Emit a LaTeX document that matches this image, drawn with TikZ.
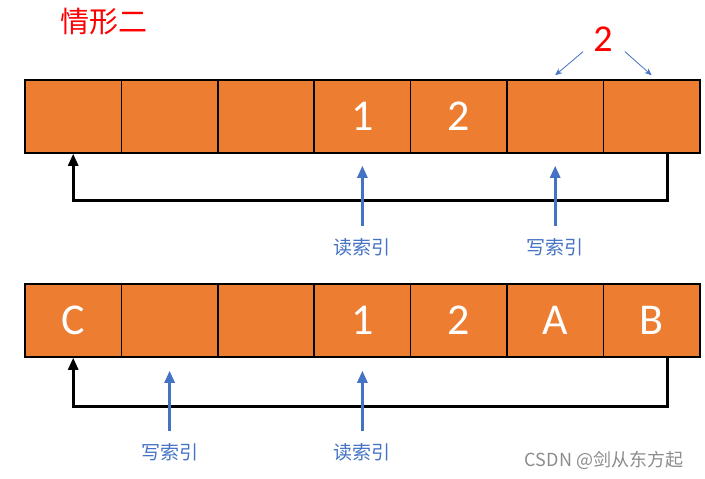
\documentclass[tikz,border=0pt]{standalone}
\usepackage{fontspec}
\setmainfont{Carlito}
\newfontfamily\cjk{Noto Sans CJK SC}
\usetikzlibrary{arrows.meta}
\definecolor{naranja}{HTML}{ED7D31}
\definecolor{azul}{HTML}{4472C4}
\definecolor{rojo}{HTML}{FF0000}
\begin{document}
\begin{tikzpicture}[
    x=1pt,
    y=-1pt,
    celda/.style={draw=black,line width=1.5pt,fill=naranja,minimum width=96.4pt,
        minimum height=73pt,inner sep=0pt,text=white,font=\fontsize{44}{48}\selectfont},
    indice/.style={draw=azul,line width=2.6pt,-{Triangle[length=12pt,width=10pt]}},
    retorno/.style={draw=black,line width=2.6pt,-{Triangle[length=12pt,width=10pt]}},
    fina/.style={draw=azul,line width=0.8pt,-{Stealth[length=7pt,width=6pt]}},
    etiqueta/.style={text=azul,font=\cjk\fontsize{19}{22}\selectfont,inner sep=0pt}
]
    \useasboundingbox (0,0) rectangle (705,479);

    \node[text=rojo,font=\cjk\fontsize{29}{32}\selectfont,inner sep=0pt] (titulo) at (104,22) {情形二};

    % primera fila
    \node[celda] (a1) at (73.2,116.5) {};
    \node[celda] (a2) at (169.6,116.5) {};
    \node[celda] (a3) at (266.0,116.5) {};
    \node[celda] (a4) at (362.4,116.5) {1};
    \node[celda] (a5) at (458.8,116.5) {2};
    \node[celda] (a6) at (555.2,116.5) {};
    \node[celda] (a7) at (651.6,116.5) {};

    \node[text=rojo,font=\fontsize{38}{40}\selectfont,inner sep=0pt] (dos) at (603,39) {2};
    \draw[fina] ([xshift=-10pt]dos.south west) -- ([yshift=4pt]a6.north);
    \draw[fina] ([xshift=12pt]dos.south east) -- ([yshift=4pt]a7.north);

    \draw[retorno] ([xshift=16pt]a7.south) -- ++(0,47) -| (a1.south);

    \node[etiqueta] (leerA) at (362.4,247) {读索引};
    \node[etiqueta] (escrA) at (555.2,247) {写索引};
    \draw[indice] ([yshift=12pt]leerA.north) -- ([yshift=-12pt]a4.south);
    \draw[indice] ([yshift=12pt]escrA.north) -- ([yshift=-12pt]a6.south);

    % segunda fila
    \node[celda] (b1) at (73.2,320.5) {C};
    \node[celda] (b2) at (169.6,320.5) {};
    \node[celda] (b3) at (266.0,320.5) {};
    \node[celda] (b4) at (362.4,320.5) {1};
    \node[celda] (b5) at (458.8,320.5) {2};
    \node[celda] (b6) at (555.2,320.5) {A};
    \node[celda] (b7) at (651.6,320.5) {B};

    \draw[retorno] ([xshift=16pt]b7.south) -- ++(0,49) -| (b1.south);

    \node[etiqueta] (escrB) at (169.6,452) {写索引};
    \node[etiqueta] (leerB) at (362.4,452) {读索引};
    \draw[indice] ([yshift=12pt]escrB.north) -- ([yshift=-13pt]b2.south);
    \draw[indice] ([yshift=12pt]leerB.north) -- ([yshift=-13pt]b4.south);

    \node[text=black!45,font=\cjk\fontsize{18}{20}\selectfont,inner sep=0pt] (marca) at (604,460) {CSDN @剑从东方起};
\end{tikzpicture}
\end{document}
